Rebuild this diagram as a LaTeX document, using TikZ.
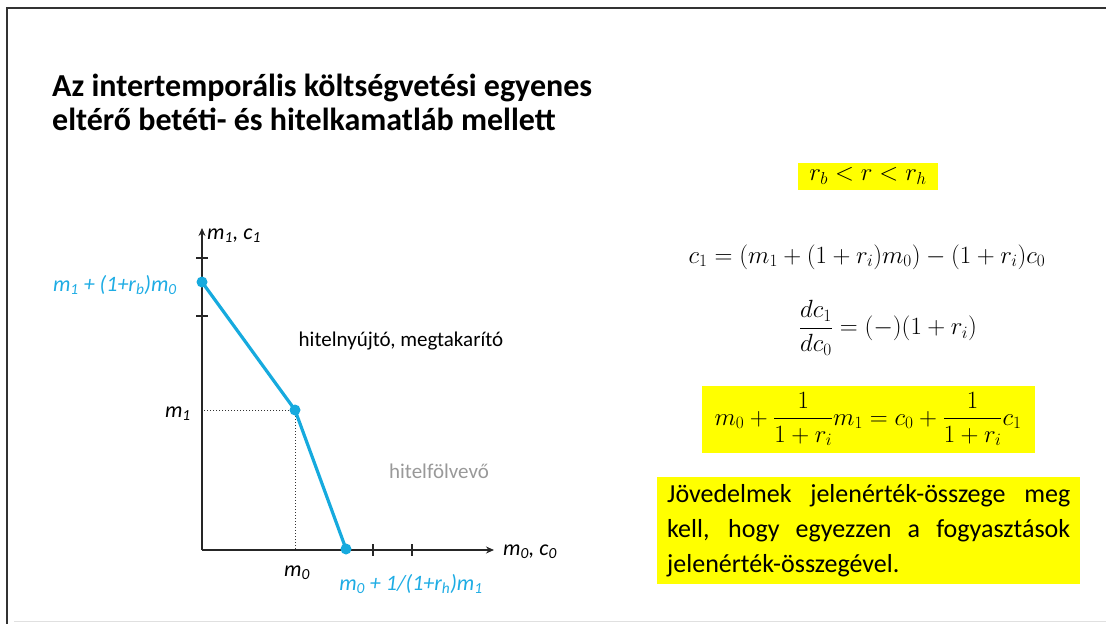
\documentclass[tikz,border=0pt]{standalone}
\usepackage{amsmath}
\usepackage{fontspec}
\setmainfont{Carlito}
\usetikzlibrary{arrows.meta}
\definecolor{sky}{RGB}{22,170,222}
\definecolor{skytext}{RGB}{30,172,228}
\definecolor{hl}{RGB}{255,255,0}
\definecolor{frame}{RGB}{50,50,50}
\begin{document}
\begin{tikzpicture}[x=1pt,y=-1pt,
  axis/.style={line width=1.6pt,draw=black!85},
  budget/.style={line width=3.2pt,draw=sky},
  dot/.style={circle,fill=sky,inner sep=0pt,minimum size=11pt},
  tick/.style={line width=1.3pt,draw=black!85},
  guide/.style={dotted,line width=1pt,draw=black!80},
  lab/.style={font=\fontsize{22}{24}\selectfont\itshape},
  bluelab/.style={lab,text=skytext},
  hlbox/.style={fill=hl,inner sep=0pt},
  mathtxt/.style={font=\fontsize{25}{30}\selectfont}]
\useasboundingbox (0,0) rectangle (1106,624);
% frame
\draw[frame,line width=2pt] (1106,8) -- (7,8) -- (7,624);
\draw[black!12,line width=1pt] (14,621) -- (1106,621);
% title
\node[anchor=base west,inner sep=0pt,font=\bfseries\fontsize{32}{38}\selectfont] (title1) at (52,96) {Az intertemporális költségvetési egyenes};
\node[anchor=base west,inner sep=0pt,font=\bfseries\fontsize{32}{38}\selectfont] (title2) at (52,130) {eltérő betéti- és hitelkamatláb mellett};
% axes
\coordinate (O) at (202,550);
\coordinate (ytop) at (202,228);
\coordinate (xend) at (494,550);
\draw[axis,-{Stealth[length=8pt,width=7pt]}] (O) -- (ytop);
\draw[axis,-{Stealth[length=8pt,width=7pt]}] (O) -- (xend);
% ticks
\draw[tick] (196,258) -- (208,258);
\draw[tick] (196,316) -- (208,316);
\draw[tick] (373,544) -- (373,556);
\draw[tick] (412,544) -- (412,556);
% points
\coordinate (A) at (202,282);
\coordinate (K) at (295,410);
\coordinate (B) at (346,549);
\draw[guide] (K) -- (K -| O);
\draw[guide] (K) -- (K |- O);
\draw[budget,line join=round] (A) -- (K) -- (B);
\node[dot] (dA) at (A) {};
\node[dot] (dK) at (K) {};
\node[dot] (dB) at (B) {};
% labels
\node[lab,anchor=west,inner sep=0pt] (ylab) at (207,236) {m\textsubscript{1}, c\textsubscript{1}};
\node[lab,anchor=west,inner sep=0pt] (xlab) at (503,552) {m\textsubscript{0}, c\textsubscript{0}};
\node[bluelab,anchor=east,inner sep=0pt] (alab) at (177,285) {m\textsubscript{1} + (1+r\textsubscript{b})m\textsubscript{0}};
\node[lab,anchor=east,inner sep=0pt] (m1lab) at (191,414) {m\textsubscript{1}};
\node[lab,inner sep=0pt] (m0lab) at (297,573) {m\textsubscript{0}};
\node[bluelab,inner sep=0pt] (blab) at (411,584) {m\textsubscript{0} + 1/(1+r\textsubscript{h})m\textsubscript{1}};
\node[font=\fontsize{21}{24}\selectfont,inner sep=0pt] (saver) at (401,341) {hitelnyújtó, megtakarító};
\node[font=\fontsize{21}{24}\selectfont,text=black!40,inner sep=0pt] (borrower) at (439,471) {hitelfölvevő};
% right side
\node[hlbox,mathtxt,minimum width=140pt,minimum height=27pt] (ineq) at (868,176) {$r_b < r < r_h$};
\node[mathtxt,inner sep=0pt] (eq1) at (867,257) {$c_1 = (m_1 + (1+r_i)m_0) - (1+r_i)c_0$};
\node[mathtxt,inner sep=0pt] (eq2) at (888,328) {$\dfrac{dc_1}{dc_0} = (-)(1+r_i)$};
\node[hlbox,mathtxt,minimum width=333pt,minimum height=67pt] (eq3) at (868,419) {$m_0 + \dfrac{1}{1+r_i}m_1 = c_0 + \dfrac{1}{1+r_i}c_1$};
\node[fill=hl,inner xsep=10pt,inner ysep=7pt,text width=403pt,align=justify,font=\fontsize{26}{35}\selectfont,anchor=north west] (note) at (657,477)
  {\hyphenpenalty=10000\exhyphenpenalty=10000 Jövedelmek jelenérték-összege meg\linebreak kell, hogy egyezzen a fogyasztások\linebreak jelenérték-összegével.};
\end{tikzpicture}
\end{document}
